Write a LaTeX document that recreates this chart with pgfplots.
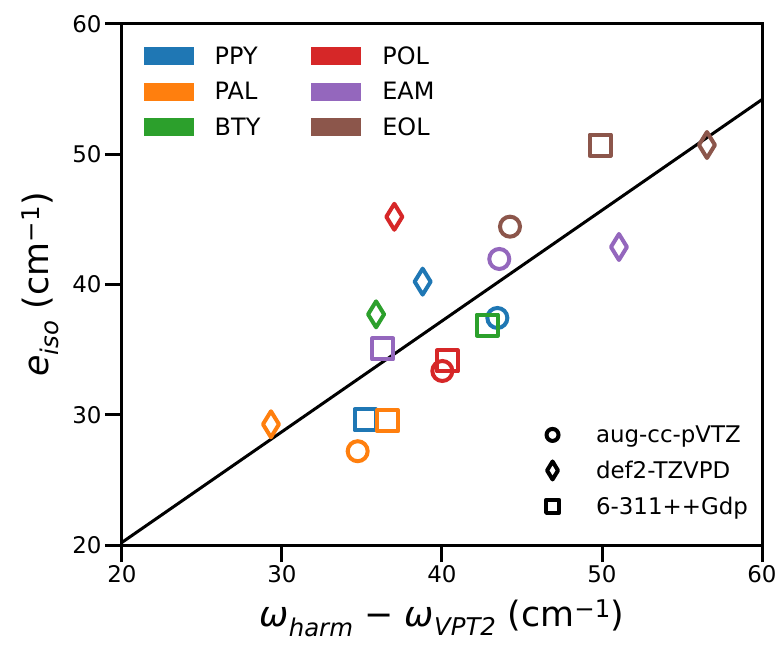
\documentclass[border=0pt]{standalone}
\usepackage{fontspec}
\setmainfont{DejaVu Sans}
\usepackage{pgfplots}
\pgfplotsset{compat=1.18}
\definecolor{cPPY}{HTML}{1F77B4}
\definecolor{cPAL}{HTML}{FF7F0E}
\definecolor{cBTY}{HTML}{2CA02C}
\definecolor{cPOL}{HTML}{D62728}
\definecolor{cEAM}{HTML}{9467BD}
\definecolor{cEOL}{HTML}{8C564B}
\pgfplotsset{
  circ/.style={only marks, mark=o, mark size=10bp, line width=4bp, forget plot},
  diam/.style={only marks, mark=diamond, mark size=13bp, line width=4bp, mark options={xscale=0.82, line join=round}, forget plot},
  sq/.style={only marks, mark=square, mark size=10.5bp, line width=4bp, mark options={line join=round}, forget plot},
}
\begin{document}
\begin{tikzpicture}
\begin{axis}[name=main,
  width=640bp, height=521bp, scale only axis,
  xmin=20, xmax=60, ymin=20, ymax=60,
  xtick={20,30,40,50,60}, ytick={20,30,40,50,60},
  xtick pos=bottom, ytick pos=left,
  tick align=outside, major tick length=17bp,
  axis line style={line width=3bp},
  every tick/.style={black, line width=3bp},
  /pgf/number format/assume math mode=true,
  ticklabel style={font=\fontsize{23}{27}\selectfont},
  xlabel={\textit{ω}\textsubscript{\textit{harm}} − \textit{ω}\textsubscript{\textit{VPT2}} (cm\textsuperscript{−1})},
  ylabel={\textit{e}\textsubscript{\textit{iso}} (cm\textsuperscript{−1})},
  label style={font=\fontsize{35}{42}\selectfont},
  xlabel style={at={(axis description cs:0.5,-0.14)}, anchor=center},
  ylabel style={at={(axis description cs:-0.128,0.5)}, anchor=center},
  legend columns=2,
  legend cell align=left,
  legend image code/.code={\fill[#1] (0bp,-9bp) rectangle (50bp,9bp);},
  legend style={at={(0.029,0.965)}, anchor=north west, draw=none, fill=none,
    font=\fontsize{24}{29}\selectfont, row sep=12.5bp,
    /tikz/every odd column/.append style={column sep=19bp},
    /tikz/every even column/.append style={column sep=49bp}},
]
\addlegendimage{fill=cPPY, draw=none}\addlegendentry{PPY}
\addlegendimage{fill=cPOL, draw=none}\addlegendentry{POL}
\addlegendimage{fill=cPAL, draw=none}\addlegendentry{PAL}
\addlegendimage{fill=cEAM, draw=none}\addlegendentry{EAM}
\addlegendimage{fill=cBTY, draw=none}\addlegendentry{BTY}
\addlegendimage{fill=cEOL, draw=none}\addlegendentry{EOL}

\addplot[black, line width=3bp, forget plot] coordinates {(20,20.2) (60,54.2)};

% PPY
\addplot[circ, cPPY] coordinates {(43.46,37.43)};
\addplot[diam, cPPY] coordinates {(38.79,40.22)};
\addplot[sq, cPPY] coordinates {(35.19,29.6)};
% PAL
\addplot[circ, cPAL] coordinates {(34.73,27.2)};
\addplot[diam, cPAL] coordinates {(29.31,29.27)};
\addplot[sq, cPAL] coordinates {(36.6,29.54)};
% BTY
\addplot[diam, cBTY] coordinates {(35.88,37.71)};
\addplot[sq, cBTY] coordinates {(42.83,36.89)};
% POL
\addplot[sq, cPOL] coordinates {(40.33,34.13)};
\addplot[circ, cPOL] coordinates {(40.02,33.36)};
\addplot[diam, cPOL] coordinates {(37.02,45.2)};
% EAM
\addplot[circ, cEAM] coordinates {(43.58,41.96)};
\addplot[diam, cEAM] coordinates {(51.06,42.88)};
\addplot[sq, cEAM] coordinates {(36.29,35.05)};
% EOL
\addplot[circ, cEOL] coordinates {(44.25,44.44)};
\addplot[diam, cEOL] coordinates {(56.56,50.71)};
\addplot[sq, cEOL] coordinates {(49.88,50.71)};
\end{axis}
\begin{axis}[at={(main.south west)}, anchor=south west,
  width=640bp, height=521bp, scale only axis, hide axis,
  xmin=0, xmax=1, ymin=0, ymax=1,
  legend cell align=left,
  legend style={at={(0.986,0.048)}, anchor=south east, draw=none, fill=none,
    font=\fontsize{23}{28}\selectfont, row sep=13bp,
    /tikz/every odd column/.append style={column sep=35bp}},
]
\addlegendimage{only marks, black, mark=o, mark size=6bp, line width=4bp}
\addlegendentry{aug-cc-pVTZ}
\addlegendimage{only marks, black, mark=diamond, mark size=9bp, line width=4bp, mark options={xscale=0.81, line join=round}}
\addlegendentry{def2-TZVPD}
\addlegendimage{only marks, black, mark=square, mark size=6.5bp, line width=4bp, mark options={line join=round}}
\addlegendentry{6-311++Gdp}
\end{axis}
\pgfresetboundingbox
\path[use as bounding box] ([xshift=-122bp,yshift=-101bp]main.south west) rectangle ([xshift=17bp,yshift=24bp]main.north east);
\end{tikzpicture}
\end{document}
